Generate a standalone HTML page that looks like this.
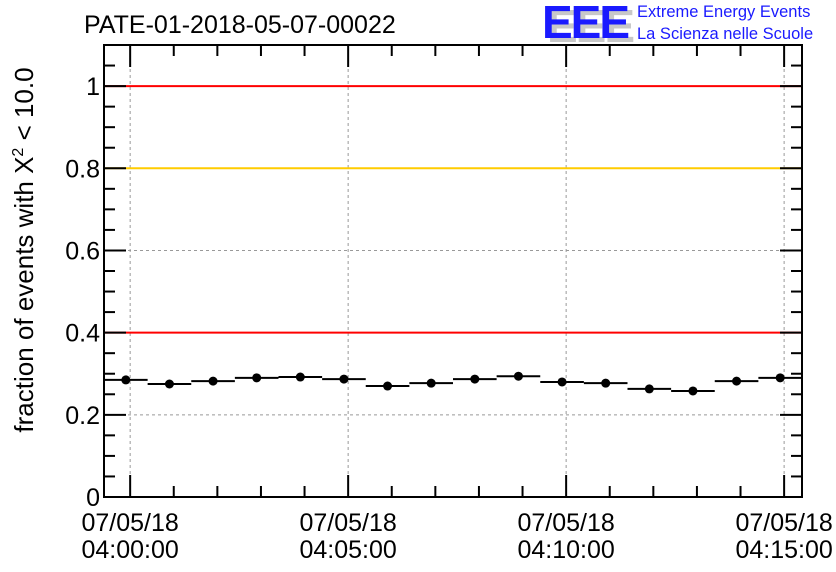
<!DOCTYPE html>
<html><head><meta charset="utf-8"><style>
body{margin:0;background:#fff;}
svg{display:block;font-family:"Liberation Sans",sans-serif;}
</style></head><body>
<svg id="c" width="836" height="572" xmlns="http://www.w3.org/2000/svg">
<text x="84" y="33" font-size="25">PATE-01-2018-05-07-00022</text>
<g>
<text x="547" y="42" font-size="46" font-weight="bold" fill="#c8c8c8" letter-spacing="-2">EEE</text>
<text x="542" y="38" font-size="46" font-weight="bold" fill="#1a1aff" letter-spacing="-2">EEE</text>
<text x="637" y="17" font-size="16.5" fill="#1a1aff">Extreme Energy Events</text>
<text x="637" y="39" font-size="16.5" fill="#1a1aff">La Scienza nelle Scuole</text>
</g>
<text transform="translate(33,250) rotate(-90)" text-anchor="middle" font-size="26">fraction of events with Χ<tspan dy="-10" font-size="16">2</tspan><tspan dy="10"> &lt; 10.0</tspan></text>
<g id="g"></g>
</svg>
<script>
const yTicks=[0,0.2,0.4,0.6,0.8,1];
const yTickLabels=["0","0.2","0.4","0.6","0.8","1"];
const xTicks=[0,5,10,15];
const xTickLabels=[["07/05/18","04:00:00"],["07/05/18","04:05:00"],["07/05/18","04:10:00"],["07/05/18","04:15:00"]];
const values=[0.285,0.275,0.282,0.29,0.292,0.287,0.27,0.277,0.287,0.294,0.28,0.277,0.263,0.258,0.282,0.29];
const refLines=[1,0.8,0.4];
const refColors=["#ff0000","#ffcc00","#ff0000"];
const L=104,R=802,T=45,B=497,xmin=-0.6,xmax=15.41,ymax=1.1;
const X=v=>L+(v-xmin)/(xmax-xmin)*(R-L);
const Y=v=>B-v/ymax*(B-T);
const g=document.getElementById('g');
const NS="http://www.w3.org/2000/svg";
function mk(t,a,p){const e=document.createElementNS(NS,t);for(const k in a)e.setAttribute(k,a[k]);(p||g).appendChild(e);return e;}
yTicks.forEach(v=>{if(v>0&&v<1){const e=mk('line',{x1:L,x2:R,y1:Y(v),y2:Y(v),stroke:'#999','stroke-dasharray':'3,3','stroke-width':1});

}});
xTicks.forEach(v=>{const e=mk('line',{x1:X(v),x2:X(v),y1:T,y2:B,stroke:'#999','stroke-dasharray':'3,3','stroke-width':1});

});
refLines.forEach((v,i)=>{const e=mk('line',{x1:L,x2:R,y1:Y(v),y2:Y(v),stroke:refColors[i],'stroke-width':2});

});
for(let v=0;v<=ymax+1e-9;v+=0.05){const major=Math.abs(v/0.2-Math.round(v/0.2))<1e-6;const len=major?22:11;
mk('line',{x1:L,x2:L+len,y1:Y(v),y2:Y(v),stroke:'#000','stroke-width':2});mk('line',{x1:R,x2:R-len,y1:Y(v),y2:Y(v),stroke:'#000','stroke-width':2});}
for(let m=0;m<=15;m++){const major=m%5===0;const len=major?22:11;
mk('line',{x1:X(m),x2:X(m),y1:B,y2:B-len,stroke:'#000','stroke-width':2});mk('line',{x1:X(m),x2:X(m),y1:T,y2:T+len,stroke:'#000','stroke-width':2});}
yTicks.forEach((v,i)=>{const e=mk('text',{x:L-4,y:Y(v)+9,'text-anchor':'end','font-size':25});e.textContent=yTickLabels[i];

});
xTicks.forEach((v,i)=>{const e=mk('text',{x:X(v),y:531,'text-anchor':'middle','font-size':25});e.textContent=xTickLabels[i][0];


const f=mk('text',{x:X(v),y:558,'text-anchor':'middle','font-size':25});f.textContent=xTickLabels[i][1];

});
const bw=(R-L)/values.length;
values.forEach((v,i)=>{const x0=L+i*bw;
const l=mk('line',{x1:x0,x2:x0+bw,y1:Y(v),y2:Y(v),stroke:'#000','stroke-width':2});


const c=mk('circle',{cx:x0+bw/2,cy:Y(v),r:4.5,fill:'#000'});

});
mk('rect',{x:L,y:T,width:R-L,height:B-T,fill:'none',stroke:'#000','stroke-width':2});
</script>
</body></html>
